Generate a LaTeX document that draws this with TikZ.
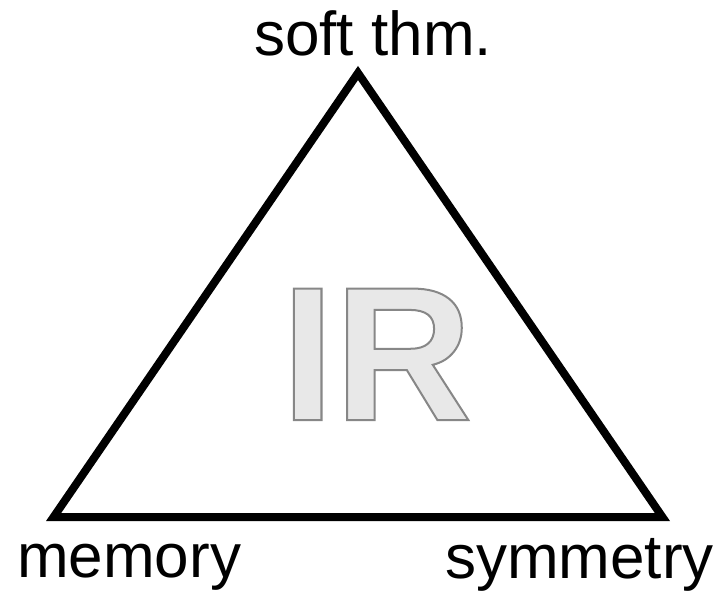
\documentclass[tikz,border=0pt]{standalone}
\usepackage{fontspec}
\setmainfont{Liberation Sans}
\usepackage{tikz}
\usetikzlibrary{positioning}
\definecolor{irfill}{HTML}{E8E8E8}
\tikzset{vertexlabel/.style={inner sep=0pt,anchor=base west,font=\fontsize{62}{70}\selectfont}}

\begin{document}
\begin{tikzpicture}[x=1pt,y=-1pt]
  \useasboundingbox (0,0) rectangle (728,597);
  \coordinate (top) at (358,73);
  \coordinate (left) at (53.6,517);
  \coordinate (right) at (662.4,517);
  \draw[line width=8pt,miter limit=10] (top) -- (right) -- (left) -- cycle;
  \node[vertexlabel] (softthm) at (254,55) {soft thm.};
  \node[vertexlabel] (memory) at (17,577) {memory};
  \node[vertexlabel] (symmetry) at (445,578) {symmetry};
  \node[inner sep=0pt,anchor=base west,font=\fontsize{191}{200}\bfseries\selectfont] (IR) at (281,420)
    {\color{irfill}\special{pdf:code 2 Tr 2 w 0.53 G}IR\special{pdf:code 0 Tr}};
\end{tikzpicture}
\end{document}
